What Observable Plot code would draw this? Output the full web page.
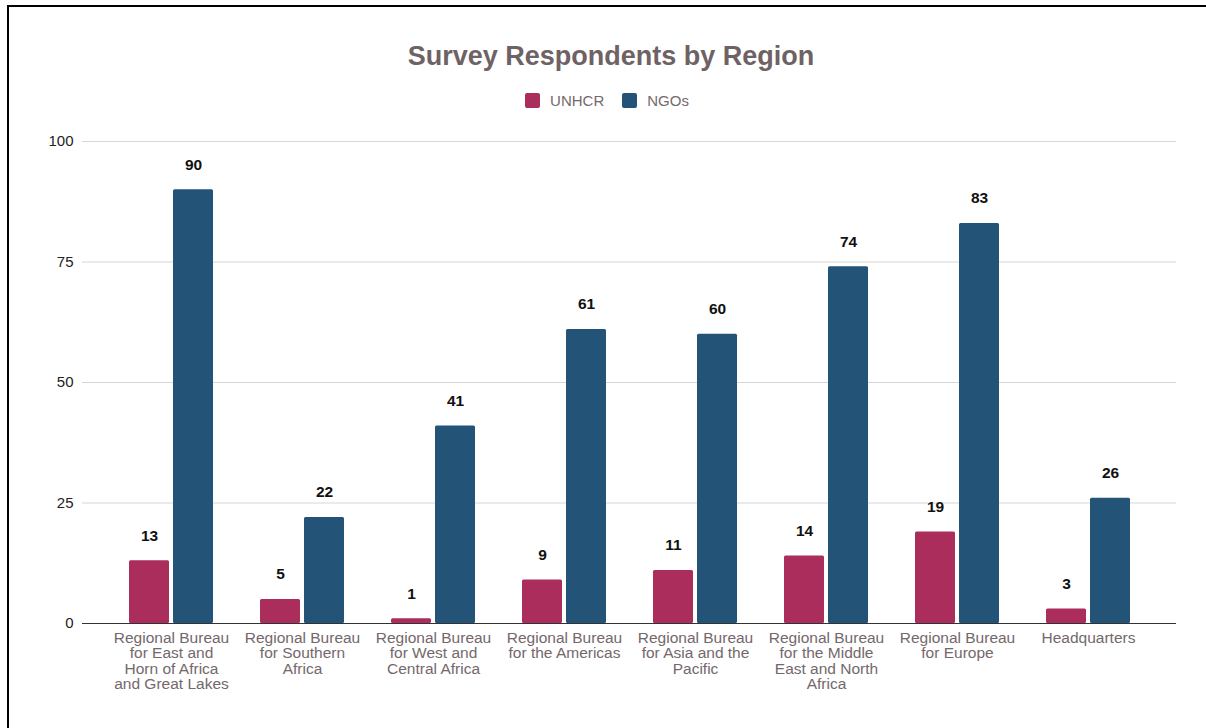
<!DOCTYPE html>
<html>
<head>
<meta charset="utf-8">
<script src="https://cdn.jsdelivr.net/npm/d3@7"></script>
<script src="https://cdn.jsdelivr.net/npm/@observablehq/plot@0.6"></script>
<style>
  html, body { margin: 0; padding: 0; background: #fff; width: 1206px; height: 728px; overflow: hidden; font-family: "Liberation Sans", Arial, sans-serif; }
  #frame { position: absolute; left: 7px; top: 5px; width: 1400px; height: 900px; border: 2.5px solid #000; box-sizing: border-box; }
  #title { position: absolute; left: 16px; width: 1190px; top: 40px; text-align: center; font-size: 27px; font-weight: bold; color: #6e6265; line-height: 32px; }
  #legend { position: absolute; left: 12px; width: 1190px; top: 92px; display: flex; justify-content: center; align-items: center; gap: 0; font-size: 15px; color: #75696c; }
  .item { display: flex; align-items: center; margin: 0 9px; }
  .sw { width: 15px; height: 15px; border-radius: 2px; margin-right: 10px; }
  #chart { position: absolute; left: 0; top: 120px; }
</style>
</head>
<body>
<div id="frame"></div>
<div id="title">Survey Respondents by Region</div>
<div id="legend"></div>
<div id="chart"></div>
<script>
const regions = [
  "Regional Bureau\nfor East and\nHorn of Africa\nand Great Lakes",
  "Regional Bureau\nfor Southern\nAfrica",
  "Regional Bureau\nfor West and\nCentral Africa",
  "Regional Bureau\nfor the Americas",
  "Regional Bureau\nfor Asia and the\nPacific",
  "Regional Bureau\nfor the Middle\nEast and North\nAfrica",
  "Regional Bureau\nfor Europe",
  "Headquarters"
];
const unhcr = [13, 5, 1, 9, 11, 14, 19, 3];
const ngos = [90, 22, 41, 61, 60, 74, 83, 26];
const seriesNames = ["UNHCR", "NGOs"];
const seriesColors = ["#ab2d5b", "#245378"];
const yTicks = [0, 25, 50, 75, 100];

const dataU = regions.map((r, i) => ({region: r, value: unhcr[i]}));
const dataN = regions.map((r, i) => ({region: r, value: ngos[i]}));

// legend
const lg = document.getElementById("legend");
seriesNames.forEach((s, i) => {
  const it = document.createElement("div");
  it.className = "item";
  it.innerHTML = `<div class="sw" style="background:${seriesColors[i]}"></div><span>${s}</span>`;
  lg.appendChild(it);
});

const chart = Plot.plot({
  width: 1206,
  height: 600,
  marginLeft: 82,
  marginRight: 30,
  marginTop: 21,
  marginBottom: 97,
  style: {fontFamily: "'Liberation Sans', Arial, sans-serif", background: "transparent"},
  x: {domain: regions, paddingInner: 0.36, paddingOuter: 0.346, label: null},
  y: {domain: [0, 100], ticks: yTicks, label: null},
  marks: [
    Plot.ruleY(yTicks.filter(d => d > 0), {stroke: "#d6d6d6", strokeWidth: 1}),
    Plot.barY(dataU, {x: "region", y: "value", fill: seriesColors[0], insetRight: 44, rx: 1.5}),
    Plot.barY(dataN, {x: "region", y: "value", fill: seriesColors[1], insetLeft: 44, rx: 1.5}),
    Plot.ruleY([0], {stroke: "#333", strokeWidth: 1.2}),
    Plot.text(dataU, {x: "region", y: "value", text: d => String(d.value), dx: -22, dy: -25, fontSize: 15.5, fontWeight: "bold", fill: "#111"}),
    Plot.text(dataN, {x: "region", y: "value", text: d => String(d.value), dx: 22, dy: -25, fontSize: 15.5, fontWeight: "bold", fill: "#111"}),
    Plot.axisY({ticks: yTicks, tickSize: 0, tickPadding: 9, fontSize: 15, fill: "#222", label: null}),
    Plot.axisX({tickSize: 0, tickPadding: 9, fontSize: 15.5, fill: "#74686b", lineHeight: 0.98, label: null, lineAnchor: "top"})
  ]
});
document.getElementById("chart").appendChild(chart);
</script>
</body>
</html>
